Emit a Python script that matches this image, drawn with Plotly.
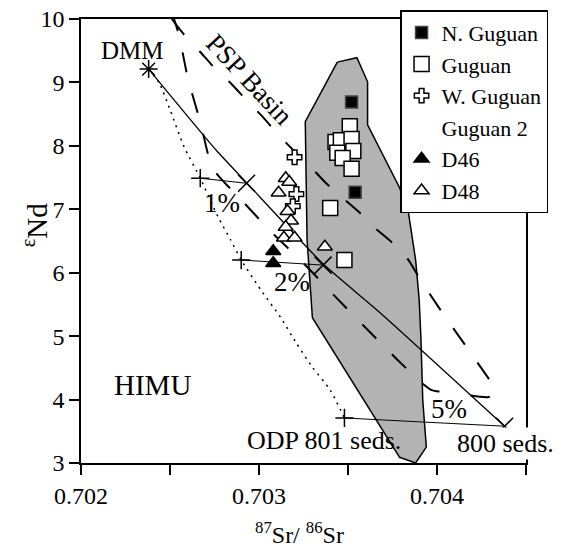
import plotly.graph_objects as go

# ---- data (87Sr/86Sr, eNd) ----
dmm_x = [0.70238]
dmm_y = [9.21]

# DMM - 800 seds mixing curve (solid)
mix800_x = [0.70238, 0.70276, 0.70293, 0.70336, 0.70368, 0.70438]
mix800_y = [9.21, 7.93, 7.42, 6.14, 5.37, 3.58]

# DMM - ODP 801 seds mixing curve (dotted)
mix801_x = [0.70238, 0.70244, 0.70250, 0.70258, 0.70267, 0.70277, 0.70284,
            0.70290, 0.70301, 0.70312, 0.70321, 0.70330, 0.70340, 0.70348]
mix801_y = [9.21, 8.99, 8.57, 7.98, 7.49, 6.88, 6.52,
            6.20, 5.73, 5.30, 4.89, 4.51, 4.15, 3.71]

# tick marks on the curves (+ on 801, X on 800) and tie lines
plus_x = [0.70267, 0.70290, 0.70348]
plus_y = [7.49, 6.20, 3.71]
cross_x = [0.70293, 0.70336, 0.70438]
cross_y = [7.41, 6.12, 3.58]

# PSP Basin field (two long-dashed curves)
psp_left_x = [0.70251, 0.70255, 0.70260, 0.70267, 0.70274, 0.70291, 0.70307,
              0.70325, 0.70343, 0.70361, 0.70378, 0.70392, 0.70397, 0.70403]
psp_left_y = [10.11, 9.75, 9.07, 8.38, 7.65, 7.12, 6.64,
              6.15, 5.62, 5.10, 4.62, 4.25, 4.15, 4.12]
psp_right_x = [0.70251, 0.70258, 0.70267, 0.70275, 0.70284, 0.70294, 0.70302,
               0.70311, 0.70319, 0.70329, 0.70337, 0.70347, 0.70356, 0.70365,
               0.70375, 0.70384, 0.70390, 0.70402, 0.70419, 0.70433, 0.70429, 0.70417]
psp_right_y = [10.00, 9.75, 9.48, 9.23, 8.99, 8.69, 8.46,
               8.17, 7.94, 7.67, 7.43, 7.18, 6.96, 6.71,
               6.47, 6.20, 5.92, 5.41, 4.73, 4.12, 4.04, 4.07]

# Guguan field (grey polygon)
field_x = [0.70344, 0.70355, 0.70361, 0.70361, 0.70379, 0.70384, 0.70388, 0.70390,
           0.70391, 0.70392, 0.70394, 0.70388, 0.70379, 0.70330, 0.70327, 0.70326, 0.70344]
field_y = [9.32, 9.39, 9.01, 8.33, 7.34, 6.94, 6.20, 5.57,
           4.94, 3.99, 3.25, 3.00, 3.09, 5.29, 6.52, 8.38, 9.32]

# samples
ng_x = [0.70352, 0.70354]
ng_y = [8.69, 7.27]
gug_x = [0.70351, 0.70343, 0.70346, 0.70352, 0.70344, 0.70353, 0.70347, 0.70352, 0.70340, 0.70348]
gug_y = [8.31, 8.06, 8.09, 8.11, 7.89, 7.92, 7.81, 7.64, 7.02, 6.20]
wg_x = [0.70320, 0.70321, 0.70319]
wg_y = [7.82, 7.24, 7.05]
d46_x = [0.70308, 0.70308]
d46_y = [6.34, 6.15]
d48_x = [0.70315, 0.70317, 0.70311, 0.70316, 0.70318, 0.70315, 0.70314, 0.70320, 0.70337]
d48_y = [7.49, 7.43, 7.26, 6.97, 6.82, 6.72, 6.55, 6.55, 6.41]

x_tickvals = [0.702, 0.7025, 0.703, 0.7035, 0.704, 0.7045]
x_ticktext = ["0.702", "", "0.703", "", "0.704", ""]
y_tickvals = [3, 4, 5, 6, 7, 8, 9, 10]

FONT = "Liberation Serif, Times New Roman, serif"
fig = go.Figure()

fig.add_trace(go.Scatter(x=field_x, y=field_y, mode="lines", fill="toself",
                         fillcolor="#b3b3b3", line=dict(color="black", width=1.5),
                         showlegend=False, hoverinfo="skip"))
for xs, ys in [(psp_left_x, psp_left_y), (psp_right_x, psp_right_y)]:
    fig.add_trace(go.Scatter(x=xs, y=ys, mode="lines", showlegend=False,
                             line=dict(color="black", width=2, dash="20px,22px", shape="spline", smoothing=0.6)))
fig.add_trace(go.Scatter(x=mix801_x, y=mix801_y, mode="lines", showlegend=False,
                         line=dict(color="black", width=1.5, dash="2px,5px", shape="spline", smoothing=0.6)))
fig.add_trace(go.Scatter(x=mix800_x, y=mix800_y, mode="lines", showlegend=False,
                         line=dict(color="black", width=1.3, shape="spline", smoothing=0.6)))
for i in range(len(plus_x)):
    fig.add_trace(go.Scatter(x=[plus_x[i], cross_x[i]], y=[plus_y[i], cross_y[i]], mode="lines",
                             showlegend=False, line=dict(color="black", width=1)))
fig.add_trace(go.Scatter(x=plus_x, y=plus_y, mode="markers", showlegend=False,
                         marker=dict(symbol="cross-thin-open", size=13, color="black",
                                     line=dict(color="black", width=1.5))))
fig.add_trace(go.Scatter(x=cross_x, y=cross_y, mode="markers", showlegend=False,
                         marker=dict(symbol="x-thin-open", size=17, color="black",
                                     line=dict(color="black", width=1.5))))
fig.add_trace(go.Scatter(x=dmm_x, y=dmm_y, mode="markers", showlegend=False,
                         marker=dict(symbol="asterisk-open", size=15, color="black",
                                     line=dict(color="black", width=1.5))))

fig.add_trace(go.Scatter(x=ng_x, y=ng_y, mode="markers", name="N. Guguan",
                         marker=dict(symbol="square", size=12, color="black", line=dict(color="#444", width=1.5))))
fig.add_trace(go.Scatter(x=gug_x, y=gug_y, mode="markers", name="Guguan",
                         marker=dict(symbol="square", size=15, color="white", line=dict(color="black", width=1.5))))
fig.add_trace(go.Scatter(x=wg_x, y=wg_y, mode="markers", name="W. Guguan",
                         marker=dict(symbol="cross", size=12, color="white", line=dict(color="black", width=1.5))))
fig.add_trace(go.Scatter(x=[None], y=[None], mode="markers", name="Guguan 2",
                         marker=dict(size=1, color="rgba(0,0,0,0)", line=dict(width=0))))
fig.add_trace(go.Scatter(x=d46_x, y=d46_y, mode="markers", name="D46",
                         marker=dict(symbol="triangle-up", size=13, color="black", line=dict(color="black", width=1.5))))
fig.add_trace(go.Scatter(x=d48_x, y=d48_y, mode="markers", name="D48",
                         marker=dict(symbol="triangle-up", size=13, color="white", line=dict(color="black", width=1.5))))

def ann(text, x, y, size, angle=0, bg=None, **kw):
    d = dict(text=text, x=x, y=y, showarrow=False, textangle=angle,
             xanchor="center", yanchor="middle",
             font=dict(family=FONT, size=size, color="black"))
    if bg:
        d["bgcolor"] = bg
    d.update(kw)
    fig.add_annotation(**d)

ann("DMM", 0.702287, 9.511, 25)
ann("PSP Basin", 0.702949, 9.038, 27, angle=47)
ann("1%", 0.702792, 7.099, 27)
ann("2%", 0.703185, 5.853, 27)
ann("5%", 0.704067, 3.851, 27)
ann("HIMU", 0.702399, 4.230, 29)
ann("ODP 801 seds.", 0.703365, 3.347, 26)
ann("800 seds.", 0.704382, 3.315, 26, bg="white")
ann("<sup>ε</sup>Nd", -0.103, 0.536, 29, angle=-90, xref="paper", yref="paper")
ann("<sup>87</sup>Sr/ <sup>86</sup>Sr", 0.492, -0.158, 24, xref="paper", yref="paper")

axis_common = dict(showgrid=False, zeroline=False, showline=True, linecolor="black",
                   linewidth=1.5, mirror=True, ticks="outside", ticklen=10, tickwidth=1.5,
                   tickcolor="black", tickfont=dict(family=FONT, size=24, color="black"))
fig.update_xaxes(range=[0.702, 0.7045], tickvals=x_tickvals, ticktext=x_ticktext, **axis_common)
fig.update_yaxes(range=[3, 10], tickvals=y_tickvals, **axis_common)

fig.update_layout(
    width=564, height=551,
    margin=dict(l=81, r=38, t=19, b=88, autoexpand=False),
    plot_bgcolor="white", paper_bgcolor="white",
    font=dict(family=FONT, color="black"),
    legend=dict(x=0.717, y=1.020, xanchor="left", yanchor="top",
                bgcolor="white", bordercolor="black", borderwidth=1.5,
                font=dict(family=FONT, size=22, color="black"),
                tracegroupgap=0, itemwidth=30),
)

fig.write_html("out.html", config={"displayModeBar": False},
               post_script="document.body.style.margin='0';")
